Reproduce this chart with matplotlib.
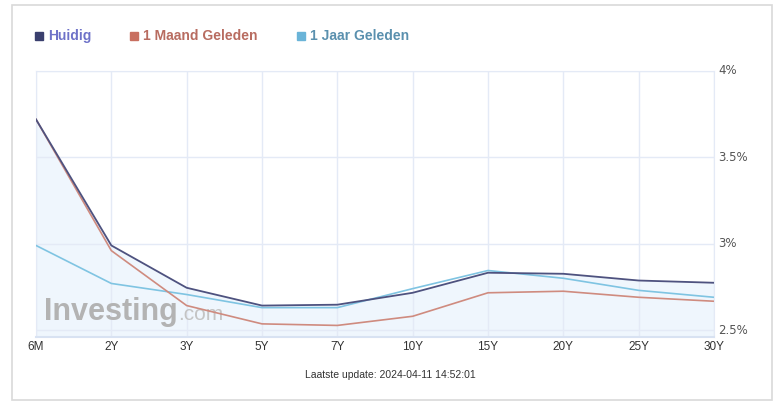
import numpy as np
import matplotlib.pyplot as plt
from matplotlib.patches import Rectangle

# looptijden en rentes (%)
looptijden = ['6M', '2Y', '3Y', '5Y', '7Y', '10Y', '15Y', '20Y', '25Y', '30Y']
huidig = [3.72, 2.99, 2.745, 2.642, 2.647, 2.716, 2.832, 2.826, 2.787, 2.774]
maand_geleden = [3.72, 2.96, 2.642, 2.536, 2.527, 2.58, 2.716, 2.725, 2.69, 2.667]
jaar_geleden = [2.99, 2.77, 2.706, 2.63, 2.63, 2.74, 2.845, 2.80, 2.73, 2.69]
y_ticks = [2.5, 3.0, 3.5, 4.0]
y_labels = ['2.5%', '3%', '3.5%', '4%']
update_tekst = 'Laatste update: 2024-04-11 14:52:01'

narrow = ['Liberation Sans Narrow', 'Liberation Sans', 'DejaVu Sans']

fig = plt.figure(figsize=(7.8, 4.09), dpi=100)
fig.patch.set_facecolor('white')

# outer frame
fig.patches.append(Rectangle((12 / 780, 1 - 400 / 409), 760 / 780, 395 / 409,
                             transform=fig.transFigure, fill=False,
                             edgecolor='#d9d9d9', linewidth=1.2))

ax = fig.add_axes([36 / 780, 1 - 337 / 409, (714 - 36) / 780, (337 - 71) / 409])
x = np.arange(len(looptijden))

ax.fill_between(x, huidig, 2.46, color='#eff6fd', zorder=1)
ax.plot(x, jaar_geleden, color='#7fc4e2', lw=1.2, zorder=3)
ax.plot(x, maand_geleden, color='#cf8b7f', lw=1.2, zorder=3)
ax.plot(x, huidig, color='#4e527f', lw=1.3, zorder=4)

ax.set_xlim(0, len(looptijden) - 1)
ax.set_ylim(2.46, 4.0)
ax.set_xticks(x)
ax.set_xticklabels(looptijden, fontsize=8.5, color='#333333', family=narrow)
ax.set_yticks(y_ticks)
ax.set_yticklabels(y_labels, fontsize=8.5, color='#555555')
ax.yaxis.tick_right()
ax.tick_params(length=0, pad=3)
for lab in ax.get_yticklabels():
    lab.set_verticalalignment('center')
ax.grid(True, color='#e4eaf6', lw=1, zorder=0)
for s in ax.spines.values():
    s.set_color('#e4eaf6')
ax.spines['bottom'].set_color('#d8e2f2')
ax.spines['bottom'].set_linewidth(1.5)

# watermerk
wm = ax.text(0.012, 0.065, 'Investing', transform=ax.transAxes, fontsize=22,
             fontweight='bold', color='#b3b3b3', family='Liberation Sans', zorder=2)
renderer = fig.canvas.get_renderer()
bb = wm.get_window_extent(renderer=renderer).transformed(ax.transAxes.inverted())
ax.text(bb.x1 + 0.001, 0.065, '.com', transform=ax.transAxes, fontsize=15,
        color='#c4c4c4', family='Liberation Sans', zorder=2)

# legend
legenda = [('Huidig', '#3a3f6e', '#6e72c8', 35),
           ('1 Maand Geleden', '#c86f60', '#b86c60', 130),
           ('1 Jaar Geleden', '#6ab4d8', '#5a90ae', 297)]
for naam, kleur, tekstkleur, px in legenda:
    fig.patches.append(Rectangle((px / 780, 1 - 40 / 409), 8 / 780, 8 / 409,
                                 transform=fig.transFigure, color=kleur))
    fig.text((px + 13) / 780, 1 - 36 / 409, naam, fontsize=10, fontweight='bold',
             color=tekstkleur, va='center', family='Liberation Sans')

fig.text(390 / 780, 1 - 375 / 409, update_tekst, fontsize=7.5, color='#333333',
         ha='center', va='center', family=narrow)

fig.savefig('out.png', dpi=100)
